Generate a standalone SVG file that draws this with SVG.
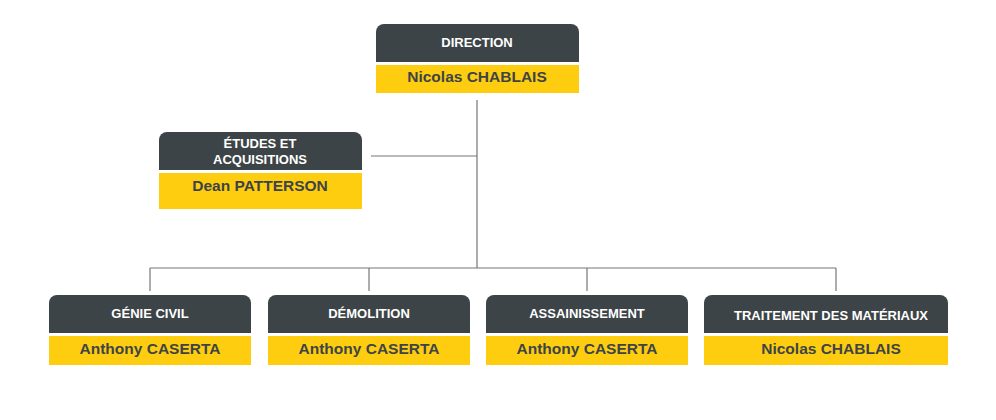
<svg xmlns="http://www.w3.org/2000/svg" width="996" height="420" viewBox="0 0 996 420">
<style>
.h{fill:#3d4447}.y{fill:#fecd0f}
.t{font-family:"Liberation Sans",Arial,sans-serif;font-weight:bold;font-size:13px;fill:#fff;text-anchor:middle}
.n{font-family:"Liberation Sans",Arial,sans-serif;font-weight:bold;font-size:15.5px;fill:#3d4447;text-anchor:middle}
.c{stroke:#777;stroke-width:1.2;fill:none}
</style>
<g id="connectors">
<path class="c" d="M477 100V268M371 156H477M150 268H836M150 268V291M369 268V291M587 268V291M836 268V291"/>
</g>
<g id="direction">
<path class="h" d="M376 62V32a8 8 0 0 1 8-8h187a8 8 0 0 1 8 8V62Z"/>
<rect class="y" x="376" y="65" width="203" height="28"/>
<text class="t" x="477" y="47">DIRECTION</text>
<text class="n" x="477" y="82">Nicolas CHABLAIS</text>
</g>
<g id="etudes">
<path class="h" d="M159 170V140a8 8 0 0 1 8-8h187a8 8 0 0 1 8 8V170Z"/>
<rect class="y" x="159" y="173" width="203" height="36"/>
<text class="t" x="260" y="148">ÉTUDES ET</text>
<text class="t" x="260" y="164">ACQUISITIONS</text>
<text class="n" x="260" y="191">Dean PATTERSON</text>
</g>
<g id="genie">
<path class="h" d="M49 333V303a8 8 0 0 1 8-8h186a8 8 0 0 1 8 8V333Z"/>
<rect class="y" x="49" y="336" width="202" height="29"/>
<text class="t" x="150" y="318">GÉNIE CIVIL</text>
<text class="n" x="150" y="354">Anthony CASERTA</text>
</g>
<g id="demolition">
<path class="h" d="M268 333V303a8 8 0 0 1 8-8h186a8 8 0 0 1 8 8V333Z"/>
<rect class="y" x="268" y="336" width="202" height="29"/>
<text class="t" x="369" y="318">DÉMOLITION</text>
<text class="n" x="369" y="354">Anthony CASERTA</text>
</g>
<g id="assainissement">
<path class="h" d="M486 333V303a8 8 0 0 1 8-8h186a8 8 0 0 1 8 8V333Z"/>
<rect class="y" x="486" y="336" width="202" height="29"/>
<text class="t" x="587" y="318">ASSAINISSEMENT</text>
<text class="n" x="587" y="354">Anthony CASERTA</text>
</g>
<g id="traitement">
<path class="h" d="M704 333V303a8 8 0 0 1 8-8h228a8 8 0 0 1 8 8V333Z"/>
<rect class="y" x="704" y="336" width="244" height="29"/>
<text class="t" x="831" y="320">TRAITEMENT DES MATÉRIAUX</text>
<text class="n" x="831" y="354">Nicolas CHABLAIS</text>
</g>
</svg>
